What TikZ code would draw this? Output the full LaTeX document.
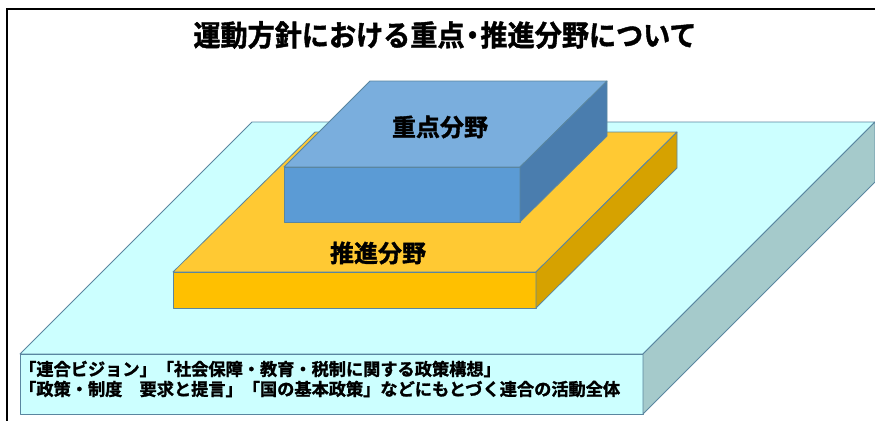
\documentclass[tikz,border=0pt]{standalone}
\usepackage{fontspec}
\newfontfamily\jpb{Noto Sans CJK JP Bold}[FakeBold=1.5]
\definecolor{cyanTop}{HTML}{CCFFFF}
\definecolor{cyanFront}{HTML}{CCFFFF}
\definecolor{cyanSide}{HTML}{A5CACB}
\definecolor{orTop}{HTML}{FFC933}
\definecolor{orFront}{HTML}{FFC000}
\definecolor{orSide}{HTML}{D6A200}
\definecolor{blTop}{HTML}{7AAEDD}
\definecolor{blFront}{HTML}{5B9BD5}
\definecolor{blSide}{HTML}{4A7DAE}
\definecolor{edgeC}{HTML}{5A86A0}
\tikzset{
  face/.style={draw=edgeC, line width=0.8pt, line join=round},
  frameline/.style={draw=black, line width=2pt},
  label/.style={font=\jpb, text=black, inner sep=0pt},
}
\begin{document}
\begin{tikzpicture}[x=1pt,y=-1pt]
\useasboundingbox (0,0) rectangle (875,424);
\fill[white] (0,0) rectangle (875,424);
% frame
\coordinate (fTL) at (7,9);
\coordinate (fTR) at (875,9);
\coordinate (fBL) at (7,421);
\draw[frameline] (fTR) -- (fTL) -- (fBL);
% title
\node[label, font=\jpb\fontsize{29}{31}\selectfont, xscale=0.935] (title) at (445,35) {運動方針における重点\kern-6pt・\kern-6pt推進分野について};
% cyan base slab
\coordinate (c1) at (20,354);
\coordinate (c2) at (643,354);
\coordinate (c3) at (875,122);
\coordinate (c4) at (252,122);
\coordinate (c5) at (643,414);
\coordinate (c6) at (20,414);
\coordinate (c7) at (875,182);
\begin{scope}
\clip (0,0) rectangle (875,424);
\filldraw[face, fill=cyanTop] (c1) -- (c2) -- (c3) -- (c4) -- cycle;
\filldraw[face, fill=cyanFront] (c1) -- (c2) -- (c5) -- (c6) -- cycle;
\filldraw[face, fill=cyanSide] (c2) -- (c3) -- (c7) -- (c5) -- cycle;
\end{scope}
% orange slab
\coordinate (o1) at (173,272);
\coordinate (o2) at (536,272);
\coordinate (o3) at (677,132);
\coordinate (o4) at (315,132);
\coordinate (o5) at (536,308);
\coordinate (o6) at (173,308);
\coordinate (o7) at (677,168);
\filldraw[face, fill=orTop] (o1) -- (o2) -- (o3) -- (o4) -- cycle;
\filldraw[face, fill=orFront] (o1) -- (o2) -- (o5) -- (o6) -- cycle;
\filldraw[face, fill=orSide] (o2) -- (o3) -- (o7) -- (o5) -- cycle;
% blue box
\coordinate (b1) at (284,167);
\coordinate (b2) at (520,167);
\coordinate (b3) at (607,81);
\coordinate (b4) at (370,81);
\coordinate (b5) at (520,222);
\coordinate (b6) at (284,222);
\coordinate (b7) at (607,136);
\filldraw[face, fill=blTop] (b1) -- (b2) -- (b3) -- (b4) -- cycle;
\filldraw[face, fill=blFront] (b1) -- (b2) -- (b5) -- (b6) -- cycle;
\filldraw[face, fill=blSide] (b2) -- (b3) -- (b7) -- (b5) -- cycle;
% labels
\node[label, font=\jpb\fontsize{24}{26}\selectfont] (juten) at (440,127) {重点分野};
\node[label, font=\jpb\fontsize{24}{26}\selectfont] (suishin) at (378,253) {推進分野};
\node[label, font=\jpb\fontsize{17.2}{20}\selectfont, anchor=west, align=left] (base) at (19,379)
  {「連合ビジョン」「社会保障・教育・税制に関する政策構想」\\「政策・制度　要求と提言」「国の基本政策」などにもとづく連合の活動全体};
\end{tikzpicture}
\end{document}
